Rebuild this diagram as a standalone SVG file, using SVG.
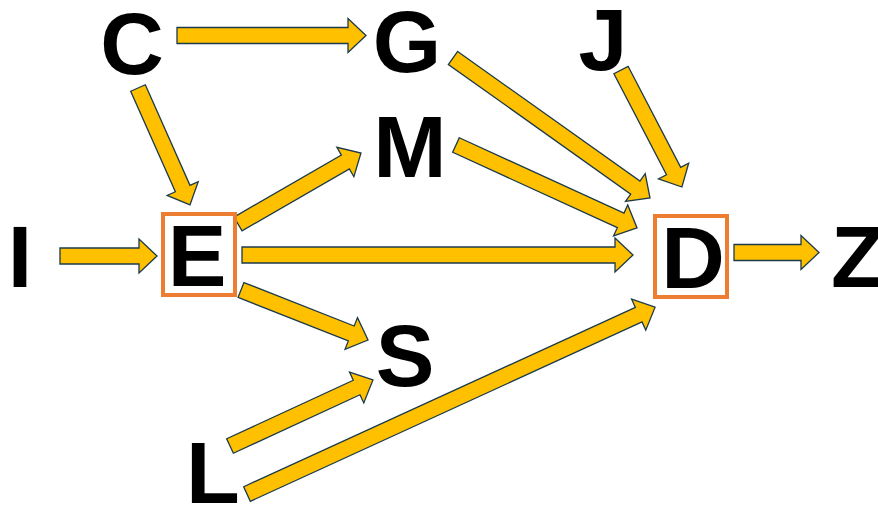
<svg xmlns="http://www.w3.org/2000/svg" width="878" height="506" viewBox="0 0 878 506">
<style>
.lbl{font-family:"Liberation Sans",Arial,sans-serif;font-weight:bold;font-size:88px;fill:#000;text-anchor:middle}
.arr{fill:#FFC000;stroke:#1B3A4B;stroke-width:1.3;stroke-linejoin:miter}
.box{fill:none;stroke:#ED7D31;stroke-width:4}
</style>
<rect width="878" height="506" fill="#fff"/>
<g id="connectors">
<path id="C-G" class="arr" transform="translate(177,35.5)" d="M0,-8H171V-17L189,0L171,17V8H0Z"/>
<path id="C-E" class="arr" transform="translate(138,88) rotate(66.04)" d="M0,-8H110V-17L128,0L110,17V8H0Z"/>
<path id="E-M" class="arr" transform="translate(238,224) rotate(-30)" d="M0,-8H124V-17L142,0L124,17V8H0Z"/>
<path id="I-E" class="arr" transform="translate(60,256)" d="M0,-8H79V-17L97,0L79,17V8H0Z"/>
<path id="E-D" class="arr" transform="translate(242,255)" d="M0,-8H373V-17L391,0L373,17V8H0Z"/>
<path id="G-D" class="arr" transform="translate(453,58) rotate(35.4)" d="M0,-8H223.7V-17L241.7,0L223.7,17V8H0Z"/>
<path id="M-D" class="arr" transform="translate(456,145) rotate(24.6)" d="M0,-8H181.1V-17L199.1,0L181.1,17V8H0Z"/>
<path id="J-D" class="arr" transform="translate(621,70) rotate(62.5)" d="M0,-8H113.9V-17L131.9,0L113.9,17V8H0Z"/>
<path id="D-Z" class="arr" transform="translate(734,252.5)" d="M0,-8H67V-17L85,0L67,17V8H0Z"/>
<path id="E-S" class="arr" transform="translate(241,290) rotate(21.5)" d="M0,-8H118.5V-17L136.5,0L118.5,17V8H0Z"/>
<path id="L-S" class="arr" transform="translate(230,446) rotate(-24.8)" d="M0,-8H139.5V-17L157.5,0L139.5,17V8H0Z"/>
<path id="L-D" class="arr" transform="translate(247,494) rotate(-24.6)" d="M0,-8H430.8V-17L448.8,0L430.8,17V8H0Z"/>
</g>
<g id="node-C"><text class="lbl" x="132" y="74">C</text></g>
<g id="node-G"><text class="lbl" x="407" y="72">G</text></g>
<g id="node-J"><text class="lbl" x="603" y="70">J</text></g>
<g id="node-M"><text class="lbl" x="410" y="177">M</text></g>
<g id="node-I"><text class="lbl" x="20" y="287">I</text></g>
<g id="node-E"><rect class="box" x="163" y="214" width="72" height="81"/><text class="lbl" x="197" y="286">E</text></g>
<g id="node-D"><rect class="box" x="655" y="216" width="72" height="81"/><text class="lbl" x="693" y="288">D</text></g>
<g id="node-Z"><text class="lbl" x="858" y="287">Z</text></g>
<g id="node-S"><text class="lbl" x="405" y="386">S</text></g>
<g id="node-L"><text class="lbl" x="213" y="503">L</text></g>
</svg>
